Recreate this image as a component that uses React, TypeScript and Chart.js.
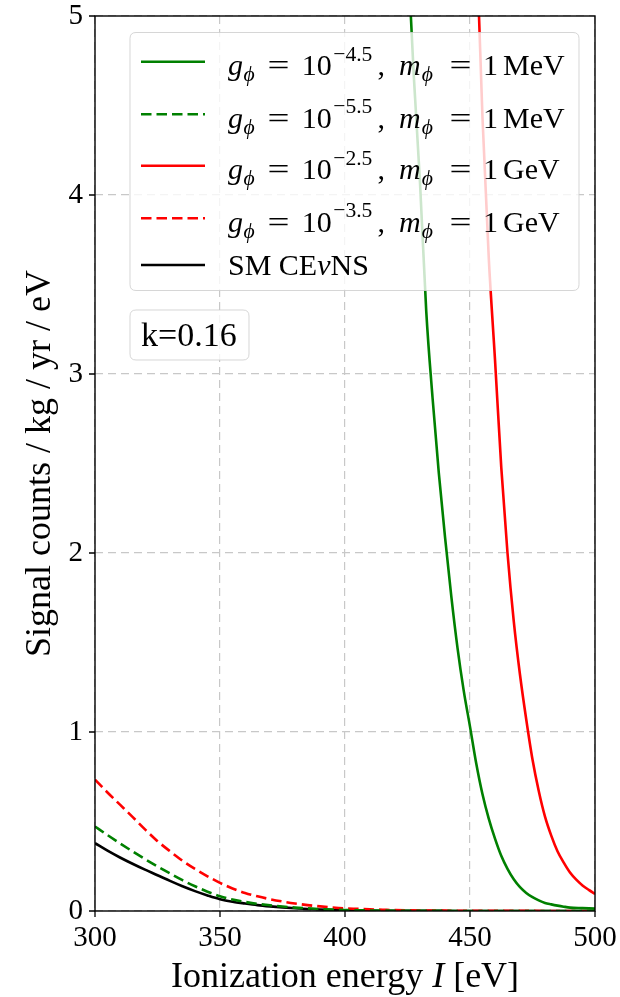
import React, { useEffect, useRef } from "react";
import { Chart, registerables } from "chart.js";

Chart.register(...registerables);

const SERIF = '"Liberation Serif", "DejaVu Serif", serif';

// Ionization energy I [eV] sampling for the low-energy curves
const lowEnergy = [
  300, 305, 310, 315, 320, 325, 330, 335, 340, 345, 350, 355, 360, 365, 370,
  375, 380, 385, 390, 395, 400, 405, 410, 415, 420, 440, 460, 480, 500,
];

// Signal counts / kg / yr / eV
const smCounts = [
  0.379, 0.337, 0.299, 0.264, 0.231, 0.2, 0.168, 0.138, 0.111, 0.087, 0.066,
  0.052, 0.042, 0.033, 0.026, 0.02, 0.015, 0.011, 0.008, 0.006, 0.004, 0.003,
  0.002, 0.0015, 0.001, 0.0004, 0.0001, 0, 0,
];
const mevWeakCounts = [
  0.472, 0.424, 0.378, 0.333, 0.29, 0.249, 0.21, 0.172, 0.138, 0.108, 0.083,
  0.064, 0.051, 0.04, 0.032, 0.025, 0.019, 0.015, 0.011, 0.008, 0.006, 0.004,
  0.003, 0.002, 0.0015, 0.0005, 0.0002, 0.0001, 0,
];
const gevWeakCounts = [
  0.734, 0.662, 0.594, 0.526, 0.456, 0.39, 0.334, 0.281, 0.235, 0.194, 0.157,
  0.126, 0.101, 0.082, 0.066, 0.053, 0.042, 0.033, 0.026, 0.02, 0.015, 0.012,
  0.009, 0.007, 0.005, 0.002, 0.001, 0.0004, 0.0002,
];

const mevStrongEnergy = [
  420, 422.5, 425, 427.5, 430, 432.5, 435, 437.5, 440, 442.5, 445, 447.5, 450,
  452.5, 455, 457.5, 460, 462.5, 465, 467.5, 470, 472.5, 475, 477.5, 480,
  482.5, 485, 487.5, 490, 495, 500,
];
const mevStrongCounts = [
  7.3, 6.3, 5.38, 4.67, 4.07, 3.35, 2.87, 2.45, 2.09, 1.76, 1.47, 1.23, 1.03,
  0.824, 0.652, 0.516, 0.404, 0.308, 0.235, 0.177, 0.133, 0.101, 0.077, 0.059,
  0.045, 0.037, 0.03, 0.024, 0.019, 0.016, 0.013,
];

const gevStrongEnergy = [
  450, 452.5, 455, 457.5, 460, 462.5, 465, 467.5, 470, 472.5, 475, 477.5, 480,
  482.5, 485, 487.5, 490, 492.5, 495, 497.5, 500,
];
const gevStrongCounts = [
  6.7, 5.45, 4.43, 3.65, 3.08, 2.48, 2.0, 1.62, 1.32, 1.07, 0.846, 0.67,
  0.527, 0.421, 0.334, 0.27, 0.215, 0.175, 0.143, 0.118, 0.096,
];

const xTicks = [300, 350, 400, 450, 500];
const yTicks = [0, 1, 2, 3, 4, 5];

// Legend text pieces
const couplingExponents = ["\u22124.5", "\u22125.5", "\u22122.5", "\u22123.5"];
const mediatorMasses = ["MeV", "MeV", "GeV", "GeV"];
const smLabel = ["SM CE", "\u03bd", "NS"];
const quenchingLabel = "k=0.16";

type Seg = {
  t: string;
  it?: boolean;
  sub?: boolean;
  sup?: boolean;
  gap?: number;
  at?: number;
  ctr?: number;
  sx?: number;
};

function mathRow(exp: string, unit: string): Seg[] {
  return [
    { t: "g", it: true, at: 0 },
    { t: "\u03d5", it: true, sub: true, gap: 0.5 },
    { t: "=", ctr: 50.5, sx: 1.3 },
    { t: "10", at: 73.7 },
    { t: exp, sup: true, gap: 1.5 },
    { t: ",", at: 149.5 },
    { t: "m", it: true, at: 171 },
    { t: "\u03d5", it: true, sub: true, gap: 1 },
    { t: "=", ctr: 232.5, sx: 1.3 },
    { t: "1", at: 255 },
    { t: unit, at: 275 },
  ];
}

function segFont(s: Seg, size: number) {
  const fs = s.sub || s.sup ? size * 0.72 : size;
  return `${s.it ? "italic " : ""}${fs}px ${SERIF}`;
}

function drawRich(ctx: CanvasRenderingContext2D, segs: Seg[], x: number, baseline: number, size: number) {
  let cx = x;
  for (const s of segs) {
    ctx.font = segFont(s, size);
    const sx = s.sx ?? 1;
    const w = ctx.measureText(s.t).width * sx;
    if (s.at !== undefined) cx = x + s.at;
    else if (s.ctr !== undefined) cx = x + s.ctr - w / 2;
    else cx += s.gap ?? 0;
    const dy = s.sub ? size * 0.2 : s.sup ? -size * 0.47 : 0;
    ctx.save();
    ctx.translate(cx, baseline + dy);
    ctx.scale(sx, 1);
    ctx.fillText(s.t, 0, 0);
    ctx.restore();
    cx += w;
  }
  return cx - x;
}

function measureRich(ctx: CanvasRenderingContext2D, segs: Seg[], size: number) {
  let w = 0;
  for (const s of segs) {
    w += s.gap ?? 0;
    ctx.font = segFont(s, size);
    w += ctx.measureText(s.t).width * (s.sx ?? 1);
  }
  return w;
}

function roundRect(ctx: CanvasRenderingContext2D, x: number, y: number, w: number, h: number, r: number) {
  ctx.beginPath();
  ctx.moveTo(x + r, y);
  ctx.lineTo(x + w - r, y);
  ctx.quadraticCurveTo(x + w, y, x + w, y + r);
  ctx.lineTo(x + w, y + h - r);
  ctx.quadraticCurveTo(x + w, y + h, x + w - r, y + h);
  ctx.lineTo(x + r, y + h);
  ctx.quadraticCurveTo(x, y + h, x, y + h - r);
  ctx.lineTo(x, y + r);
  ctx.quadraticCurveTo(x, y, x + r, y);
  ctx.closePath();
}

const TITLE_SIZE = 36;

const decorations = {
  id: "decorations",
  afterDraw(chart: any) {
    const { ctx, chartArea: a, scales } = chart;
    ctx.save();

    // axes frame
    ctx.strokeStyle = "#000";
    ctx.lineWidth = 1.4;
    ctx.setLineDash([]);
    ctx.strokeRect(a.left, a.top, a.right - a.left, a.bottom - a.top);

    // outward tick marks
    ctx.lineWidth = 1.3;
    ctx.beginPath();
    for (const v of xTicks) {
      const x = scales.x.getPixelForValue(v);
      ctx.moveTo(x, a.bottom);
      ctx.lineTo(x, a.bottom + 6);
    }
    for (const v of yTicks) {
      const y = scales.y.getPixelForValue(v);
      ctx.moveTo(a.left - 6, y);
      ctx.lineTo(a.left, y);
    }
    ctx.stroke();

    ctx.fillStyle = "#000";
    ctx.textBaseline = "alphabetic";
    ctx.textAlign = "left";

    // x axis title
    const xTitle: Seg[] = [
      { t: "Ionization energy " },
      { t: "I", it: true },
      { t: " [eV]" },
    ];
    const tw = measureRich(ctx, xTitle, TITLE_SIZE);
    drawRich(ctx, xTitle, (a.left + a.right) / 2 - tw / 2, 987, TITLE_SIZE);

    // y axis title
    ctx.save();
    ctx.translate(50, (a.top + a.bottom) / 2);
    ctx.rotate(-Math.PI / 2);
    ctx.font = `${TITLE_SIZE}px ${SERIF}`;
    ctx.textAlign = "center";
    ctx.fillText("Signal counts / kg / yr / eV", 0, 0);
    ctx.restore();

    // legend
    ctx.fillStyle = "rgba(255,255,255,0.8)";
    ctx.strokeStyle = "rgba(204,204,204,0.8)";
    ctx.lineWidth = 1;
    roundRect(ctx, 130, 32.5, 449, 258, 6);
    ctx.fill();
    ctx.stroke();

    const handleY = [61.7, 114.3, 165.7, 218.3, 265];
    const baseY = [75, 127.5, 179, 231.5, 275];
    chart.data.datasets.forEach((ds: any, i: number) => {
      ctx.strokeStyle = ds.borderColor;
      ctx.lineWidth = ds.borderWidth;
      ctx.setLineDash(ds.borderDash || []);
      ctx.beginPath();
      ctx.moveTo(141, handleY[i]);
      ctx.lineTo(205, handleY[i]);
      ctx.stroke();
      ctx.setLineDash([]);
      ctx.fillStyle = "#000";
      const segs: Seg[] =
        i < 4
          ? mathRow(couplingExponents[i], mediatorMasses[i])
          : [{ t: smLabel[0] }, { t: smLabel[1], it: true }, { t: smLabel[2] }];
      drawRich(ctx, segs, 228, baseY[i], 30);
    });

    // quenching factor box
    ctx.fillStyle = "rgba(255,255,255,0.8)";
    ctx.strokeStyle = "rgba(204,204,204,0.8)";
    ctx.lineWidth = 1;
    roundRect(ctx, 130, 310, 119, 50, 6);
    ctx.fill();
    ctx.stroke();
    ctx.fillStyle = "#000";
    ctx.font = `34px ${SERIF}`;
    ctx.fillText(quenchingLabel, 141, 346);

    ctx.restore();
  },
};

function points(xs: number[], ys: number[]) {
  return xs.map((x, i) => ({ x, y: ys[i] }));
}

function noPadding(s: any) {
  s.paddingLeft = 0;
  s.paddingRight = 0;
  s.paddingTop = 0;
  s.paddingBottom = 0;
}

export default function App() {
  const ref = useRef<HTMLCanvasElement | null>(null);

  useEffect(() => {
    if (!ref.current) return;
    const dashed = [10.5, 5];
    const common = {
      pointRadius: 0,
      borderWidth: 2.6,
      fill: false,
      cubicInterpolationMode: "monotone" as const,
    };
    const chart = new Chart(ref.current, {
      type: "line",
      data: {
        datasets: [
          { ...common, data: points(mevStrongEnergy, mevStrongCounts), borderColor: "#008000" },
          { ...common, data: points(lowEnergy, mevWeakCounts), borderColor: "#008000", borderDash: dashed },
          { ...common, data: points(gevStrongEnergy, gevStrongCounts), borderColor: "#ff0000" },
          { ...common, data: points(lowEnergy, gevWeakCounts), borderColor: "#ff0000", borderDash: dashed },
          { ...common, data: points(lowEnergy, smCounts), borderColor: "#000000" },
        ] as any,
      },
      options: {
        responsive: false,
        animation: false,
        events: [],
        layout: { padding: { top: 16, right: 25, left: 0, bottom: 0 } },
        plugins: { legend: { display: false }, tooltip: { enabled: false } },
        scales: {
          x: {
            type: "linear",
            min: 300,
            max: 500,
            afterFit: (s: any) => {
              s.height = 86;
              noPadding(s);
            },
            afterBuildTicks: (s: any) => {
              s.ticks = xTicks.map((v) => ({ value: v }));
            },
            ticks: {
              font: { family: SERIF, size: 29 },
              color: "#000",
              padding: 10,
              maxRotation: 0,
              autoSkip: false,
            },
            grid: { color: "#c8c8c8", lineWidth: 1.2, drawTicks: false },
            border: { display: false, dash: [8, 5] },
          },
          y: {
            type: "linear",
            min: 0,
            max: 5,
            afterFit: (s: any) => {
              s.width = 95;
              noPadding(s);
            },
            afterBuildTicks: (s: any) => {
              s.ticks = yTicks.map((v) => ({ value: v }));
            },
            ticks: {
              font: { family: SERIF, size: 29 },
              color: "#000",
              padding: 12,
            },
            grid: { color: "#c8c8c8", lineWidth: 1.2, drawTicks: false },
            border: { display: false, dash: [8, 5] },
          },
        },
      } as any,
      plugins: [decorations],
    });
    return () => chart.destroy();
  }, []);

  return (
    <div style={{ position: "absolute", left: 0, top: 0, width: 620, height: 997, background: "#fff" }}>
      <canvas ref={ref} width={620} height={997} style={{ display: "block", width: 620, height: 997 }} />
    </div>
  );
}
